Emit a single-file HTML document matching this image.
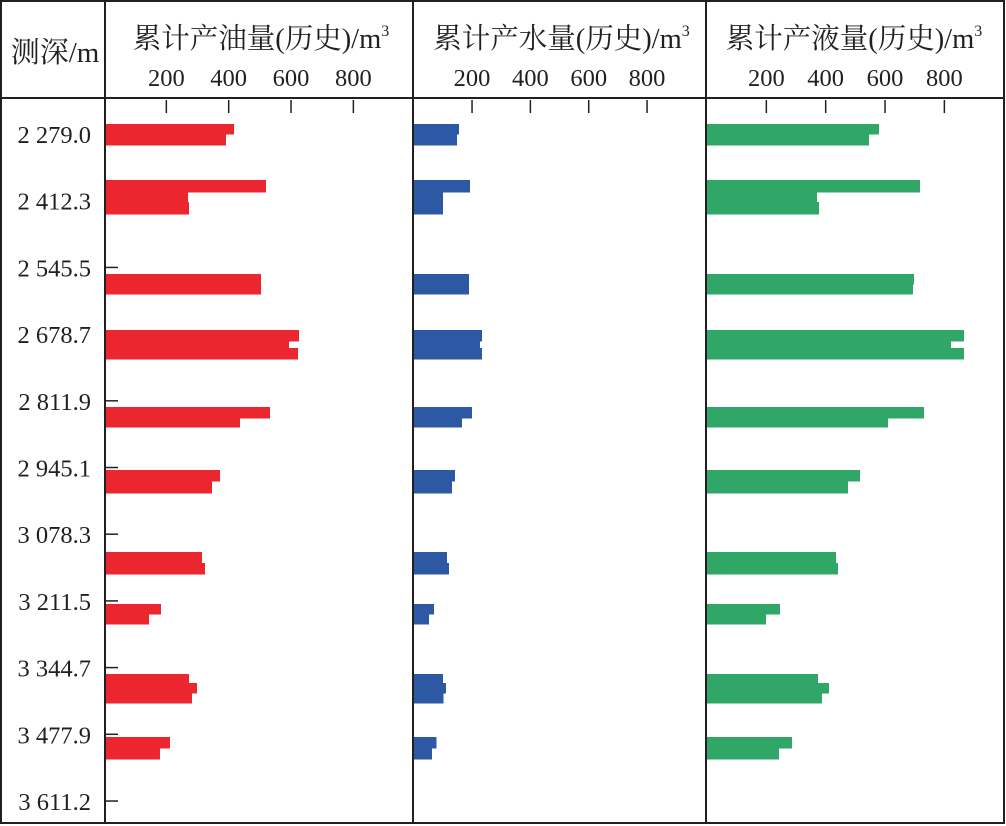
<!DOCTYPE html>
<html><head><meta charset="utf-8"><style>
html,body{margin:0;padding:0;background:#fff;}
svg{display:block;}
text{font-family:"Liberation Serif","Noto Serif CJK SC",serif;fill:#231f20;}
</style></head><body>
<svg id="chart" width="1006" height="826" viewBox="0 0 1006 826" xmlns="http://www.w3.org/2000/svg"></svg>
<script>
const depthTicks = [2279.0, 2412.3, 2545.5, 2678.7, 2811.9, 2945.1, 3078.3, 3211.5, 3344.7, 3477.9, 3611.2];
const depthLabels = ["2 279.0","2 412.3","2 545.5","2 678.7","2 811.9","2 945.1","3 078.3","3 211.5","3 344.7","3 477.9","3 611.2"];
const xTicks = [200, 400, 600, 800];
const segTop = [2259,2279, 2371,2395,2415, 2559,2579, 2670,2692,2706, 2824,2846, 2950,2972, 3114,3136, 3218,3238, 3358,3376,3396, 3484,3506];
const segBottom = [2279,2301, 2395,2415,2439, 2579,2599, 2692,2706,2728, 2846,2864, 2972,2996, 3136,3158, 3238,3258, 3376,3396,3416, 3506,3528];
const oilValues = [417,391, 520,269,273, 504,504, 626,594,622, 533,436, 372,346, 314,324, 183,144, 273,298,282, 212,180];
const waterValues = [155,148, 193,101,101, 190,190, 234,227,234, 200,165, 141,131, 114,121, 69,52, 101,110,103, 79,62];
const liquidValues = [580,546, 718,371,377, 698,694, 866,822,866, 731,610, 516,475, 435,442, 246,199, 374,411,388, 287,243];

const NS = "http://www.w3.org/2000/svg";
const svg = document.getElementById("chart");
function el(tag, attrs, parent){
  const e = document.createElementNS(NS, tag);
  for (const k in attrs) e.setAttribute(k, attrs[k]);
  (parent||svg).appendChild(e);
  return e;
}
function yScale(d){ return 134 + (d - 2279) * 0.5007; }

const panels = [
  {key:"oil", title:"累计产油量(历史)/m", x0:104, k:0.3117, left:105, right:413, tdx:-2, color:"#ec262e", values:oilValues},
  {key:"water", title:"累计产水量(历史)/m", x0:413.7, k:0.2917, left:413, right:706, tdx:-2, color:"#2d58a4", values:waterValues},
  {key:"liquid", title:"累计产液量(历史)/m", x0:707, k:0.2967, left:706, right:1004, tdx:-5, color:"#31a767", values:liquidValues}
];

let f = el("rect",{x:1,y:1,width:1003,height:822,fill:"none",stroke:"#231f20","stroke-width":2});


let hl = el("line",{x1:1,y1:98,x2:1004,y2:98,stroke:"#231f20","stroke-width":2});



let dt = el("text",{x:55,y:62,"font-size":29,"text-anchor":"middle"});
dt.textContent = "测深/m";



depthTicks.forEach((d,i)=>{
  const y = yScale(d);
  const t = el("line",{x1:105,y1:y,x2:118,y2:y,stroke:"#231f20","stroke-width":1.5});
  
  
  const lb = el("text",{x:91,y:y+9,"font-size":24.5,"text-anchor":"end"});
  lb.textContent = depthLabels[i];
  
  
});

panels.forEach(p=>{
  const g = el("g",{});
  
  
  const v = el("line",{x1:p.left,y1:1,x2:p.left,y2:824,stroke:"#231f20","stroke-width":2},g);
  
  
  const cx = (p.left + p.right)/2 + 4 + p.tdx;
  const tt = el("text",{x:cx,y:48,"font-size":28.5,"text-anchor":"middle"},g);
  tt.textContent = p.title;
  const sup = el("tspan",{"font-size":16,dy:-12},tt);
  sup.textContent = "3";
  
  
  xTicks.forEach(tv=>{
    const x = p.x0 + tv*p.k;
    const tk = el("line",{x1:x,y1:100,x2:x,y2:113,stroke:"#231f20","stroke-width":1.5},g);
    
    
    const tl = el("text",{x:x,y:86,"font-size":24.5,"text-anchor":"middle"},g);
    tl.textContent = String(tv);
    
    
  });
  p.values.forEach((val,i)=>{
    const y1 = Math.round(yScale(segTop[i])), y2 = Math.round(yScale(segBottom[i]));
    const x1 = p.left + 1;
    const b = el("rect",{x:x1,y:y1,width:Math.max(0,p.x0 + val*p.k - x1),height:y2-y1+0.6,fill:p.color,"shape-rendering":"crispEdges"},g);
    
    
  });
});
</script>
</body></html>
